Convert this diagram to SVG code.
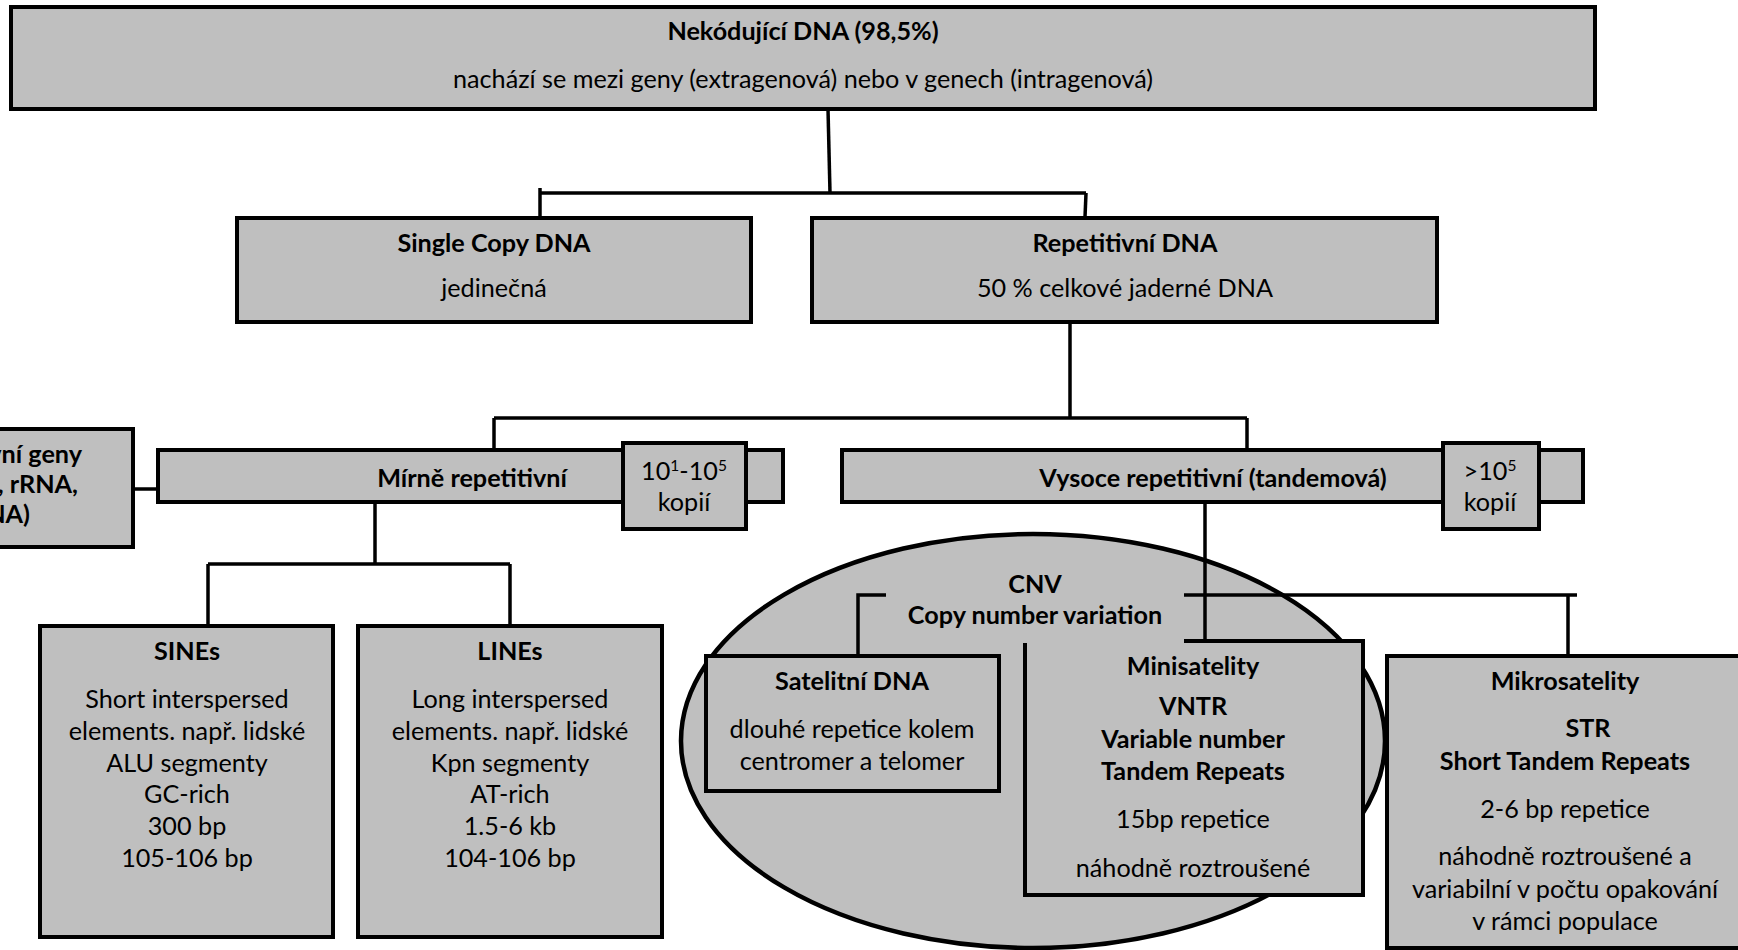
<svg xmlns="http://www.w3.org/2000/svg" width="1738" height="950" viewBox="0 0 1738 950">
<style>
.box{fill:#BFBFBF;stroke:#000;stroke-width:4}
.fill{fill:#BFBFBF;stroke:none}
.edge{fill:none;stroke:#000;stroke-width:4}
.con{fill:none;stroke:#000;stroke-width:3.5}
text{font-family:Lato,"Liberation Sans",sans-serif;font-size:25.2px;fill:#000;text-anchor:middle}
.b{font-weight:bold}
.e{text-anchor:end}
.sup{font-size:15.5px}
</style>
<rect width="1738" height="950" fill="#fff"/>
<g id="cnv">
<ellipse cx="1033" cy="741" rx="352" ry="207" fill="#BFBFBF" stroke="#000" stroke-width="4.5"/>
<text class="b" x="1035" y="593">CNV</text>
<text class="b" x="1035" y="624">Copy number variation</text>
</g>
<g id="connectors">
<path class="con" d="M828,109 L830,193"/>
<path class="con" d="M540,193 H1086"/>
<path class="con" d="M540,188 V220"/>
<path class="con" d="M1086,193 L1085,217"/>
<path class="con" d="M1070,322 V418"/>
<path class="con" d="M494,418 H1247"/>
<path class="con" d="M494,418 V450"/>
<path class="con" d="M1247,418 V450"/>
<path class="con" d="M133,489 H160"/>
<path class="con" d="M160,482 V496"/>
<path class="con" d="M375,502 V564"/>
<path class="con" d="M208,564 H510"/>
<path class="con" d="M208,564 V625"/>
<path class="con" d="M510,564 V625"/>
<path class="con" d="M886,595 H858 V656"/>
<path class="con" d="M1184,595 H1577"/>
<path class="con" d="M1568,595 V656"/>
<path class="con" d="M1205,502 V641"/>
</g>
<g id="n-nekodujici">
<rect class="box" x="11" y="7" width="1584" height="102"/>
<text class="b" x="803" y="40">Nekódující DNA (98,5%)</text>
<text x="803" y="88">nachází se mezi geny (extragenová) nebo v genech (intragenová)</text>
</g>
<g id="n-single">
<rect class="box" x="237" y="218" width="514" height="104"/>
<text class="b" x="494" y="252">Single Copy DNA</text>
<text x="494" y="297">jedinečná</text>
</g>
<g id="n-repetitivni">
<rect class="box" x="812" y="218" width="625" height="104"/>
<text class="b" x="1125" y="252">Repetitivní DNA</text>
<text x="1125" y="297">50 % celkové jaderné DNA</text>
</g>
<g id="n-left">
<rect class="box" x="-40" y="429" width="173" height="118"/>
<text class="b e" x="82" y="463">vní geny</text>
<text class="b e" x="78" y="493">, rRNA,</text>
<text class="b e" x="30" y="523">NA)</text>
</g>
<g id="n-mirne">
<rect class="box" x="158" y="450" width="625" height="52"/>
<text class="b" x="472" y="487">Mírně repetitivní</text>
<rect class="box" x="623" y="443" width="123" height="86"/>
<text x="684" y="480">10<tspan class="sup" dy="-9">1</tspan><tspan dy="9">-10</tspan><tspan class="sup" dy="-9">5</tspan></text>
<text x="684" y="511">kopií</text>
</g>
<g id="n-vysoce">
<rect class="box" x="842" y="450" width="741" height="52"/>
<text class="b" x="1213" y="487">Vysoce repetitivní (tandemová)</text>
<rect class="box" x="1443" y="443" width="96" height="86"/>
<text x="1490" y="480">&gt;10<tspan class="sup" dy="-9">5</tspan></text>
<text x="1490" y="511">kopií</text>
</g>
<g id="n-sines">
<rect class="box" x="40" y="626" width="293" height="311"/>
<text class="b" x="187" y="660">SINEs</text>
<text x="187" y="708">Short interspersed</text>
<text x="187" y="740">elements. např. lidské</text>
<text x="187" y="772">ALU segmenty</text>
<text x="187" y="803">GC-rich</text>
<text x="187" y="835">300 bp</text>
<text x="187" y="867">105-106 bp</text>
</g>
<g id="n-lines">
<rect class="box" x="358" y="626" width="304" height="311"/>
<text class="b" x="510" y="660">LINEs</text>
<text x="510" y="708">Long interspersed</text>
<text x="510" y="740">elements. např. lidské</text>
<text x="510" y="772">Kpn segmenty</text>
<text x="510" y="803">AT-rich</text>
<text x="510" y="835">1.5-6 kb</text>
<text x="510" y="867">104-106 bp</text>
</g>
<g id="n-satelitni">
<rect class="box" x="706" y="656" width="293" height="135"/>
<text class="b" x="852" y="690">Satelitní DNA</text>
<text x="852" y="738">dlouhé repetice kolem</text>
<text x="852" y="770">centromer a telomer</text>
</g>
<g id="n-minisatelity">
<rect class="fill" x="1025" y="641" width="338" height="254"/>
<path class="edge" d="M1184,641 H1363 V895 H1025 V643"/>
<text class="b" x="1193" y="675">Minisatelity</text>
<text class="b" x="1193" y="715">VNTR</text>
<text class="b" x="1193" y="748">Variable number</text>
<text class="b" x="1193" y="780">Tandem Repeats</text>
<text x="1193" y="828">15bp repetice</text>
<text x="1193" y="877">náhodně roztroušené</text>
</g>
<g id="n-mikrosatelity">
<rect class="box" x="1387" y="656" width="360" height="292"/>
<text class="b" x="1565" y="690">Mikrosatelity</text>
<text class="b" x="1588" y="737">STR</text>
<text class="b" x="1565" y="770">Short Tandem Repeats</text>
<text x="1565" y="818">2-6 bp repetice</text>
<text x="1565" y="865">náhodně roztroušené a</text>
<text x="1565" y="898">variabilní v počtu opakování</text>
<text x="1565" y="930">v rámci populace</text>
</g>
</svg>
